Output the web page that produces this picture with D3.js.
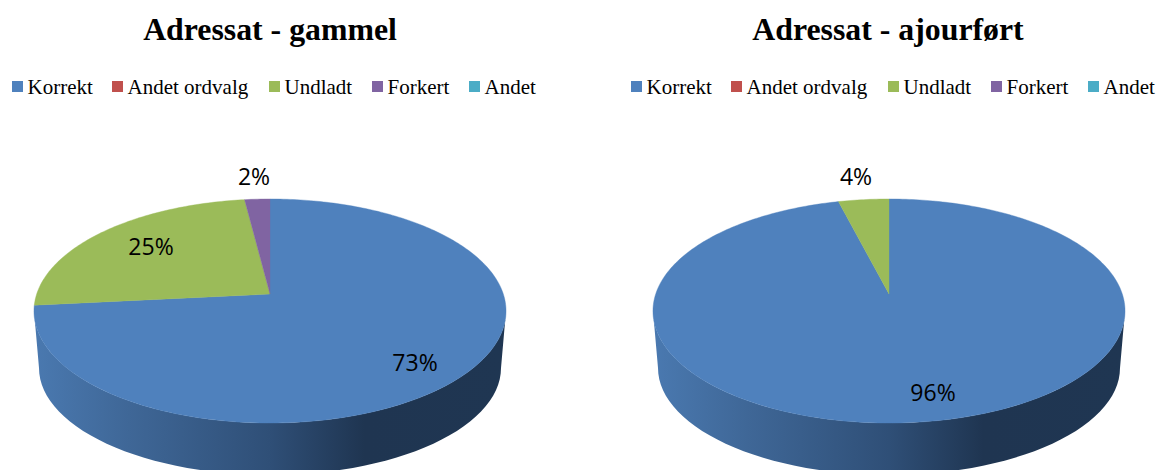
<!DOCTYPE html>
<html><head><meta charset="utf-8">
<script src="https://cdn.jsdelivr.net/npm/d3@7"></script>
<style>html,body{margin:0;padding:0;background:#fff;overflow:hidden}svg{display:block}</style>
</head><body><svg id="c" width="1158" height="470"></svg>
<script>
const categories = ["Korrekt","Andet ordvalg","Undladt","Forkert","Andet"];
const colors = ["#4F81BD","#C0504D","#9BBB59","#8064A2","#4BACC6"];
const titles = ["Adressat - gammel","Adressat - ajourført"];
const valuesOld = [73.4,0,24.6,2,0];
const valuesNew = [96,0,4,0,0];
const labelsOld = ["73%","","25%","2%",""];
const labelsNew = ["96%","","4%","",""];

const svg = d3.select("#c");
const panels = [
  {cx:270, title:titles[0], titleX:270, legendX:0,   values:valuesOld, labels:labelsOld, offs:{0:[145,69],2:[-119,-47],3:[-16,-117]}},
  {cx:889, title:titles[1], titleX:888, legendX:619, values:valuesNew, labels:labelsNew, offs:{0:[44,99],2:[-33,-117]}}
];

// perspective projection of the unit disc onto the tilted pie top
const R=233.3, C=-0.1518, A=64.8, Y0=294;
const project=(u,v,cx)=>[cx+R*u/(1+C*v),(Y0+A*v)/(1+C*v)];
const onRim=(t,cx)=>project(Math.sin(t),-Math.cos(t),cx);
const line=d3.line();

// horizontal shade of the pie wall
const defs=svg.append("defs");
const wallStops=[[0,"#4a79b0"],[0.2,"#3f6797"],[0.5,"#2f4f77"],[0.7,"#1f3551"],[1,"#1f3652"]];

panels.forEach((p,i)=>{
  const g=svg.append("g");
  const gid="wall"+i;
  const grad=defs.append("linearGradient").attr("id",gid).attr("gradientUnits","userSpaceOnUse")
    .attr("x1",p.cx-236).attr("x2",p.cx+236).attr("y1",0).attr("y2",0);
  wallStops.forEach(s=>grad.append("stop").attr("offset",s[0]).attr("stop-color",s[1]));

  // wall: front half of the top rim and the lower rim
  const ts=d3.range(0,181,3).map(d=>d*Math.PI/180);
  const topArc=ts.map(t=>[p.cx+236*Math.cos(t),311+112*Math.sin(t)]);
  const botArc=ts.slice().reverse().map(t=>[p.cx+231*Math.cos(t),368+107*Math.sin(t)]);
  g.append("path").attr("d",line(topArc.concat(botArc))+"Z").attr("fill",`url(#${gid})`);

  // top face slices
  const slices=d3.pie().sort(null)(p.values);
  slices.forEach(s=>{
    if(s.value<=0) return;
    const n=Math.max(2,Math.ceil((s.endAngle-s.startAngle)*60));
    const rim=d3.range(n+1).map(k=>onRim(s.startAngle+(s.endAngle-s.startAngle)*k/n,p.cx));
    g.append("path").attr("d",line([project(0,0,p.cx),...rim])+"Z")
      .attr("fill",colors[s.index]).attr("stroke",colors[s.index]).attr("stroke-width",0.4);
  });

  // data labels
  p.labels.forEach((t,k)=>{
    if(!t) return;
    g.append("text").attr("x",p.cx+p.offs[k][0]).attr("y",Y0+p.offs[k][1]+8)
      .attr("text-anchor","middle").attr("font-family","'Open Sans'").attr("font-size",23)
      .attr("fill","#000").text(t);
  });

  // title
  svg.append("text").attr("x",p.titleX).attr("y",40).attr("text-anchor","middle")
    .attr("font-family","'Liberation Serif'").attr("font-weight","bold").attr("font-size",31.8)
    .attr("fill","#000").text(p.title);

  // legend
  const swatchX=[12,112,269,372,469];
  categories.forEach((c,k)=>{
    svg.append("rect").attr("x",p.legendX+swatchX[k]).attr("y",81).attr("width",11).attr("height",11).attr("fill",colors[k]);
    svg.append("text").attr("x",p.legendX+swatchX[k]+15.5).attr("y",94)
      .attr("font-family","'Liberation Serif'").attr("font-size",21).attr("fill","#000").text(c);
  });
});
</script></body></html>
